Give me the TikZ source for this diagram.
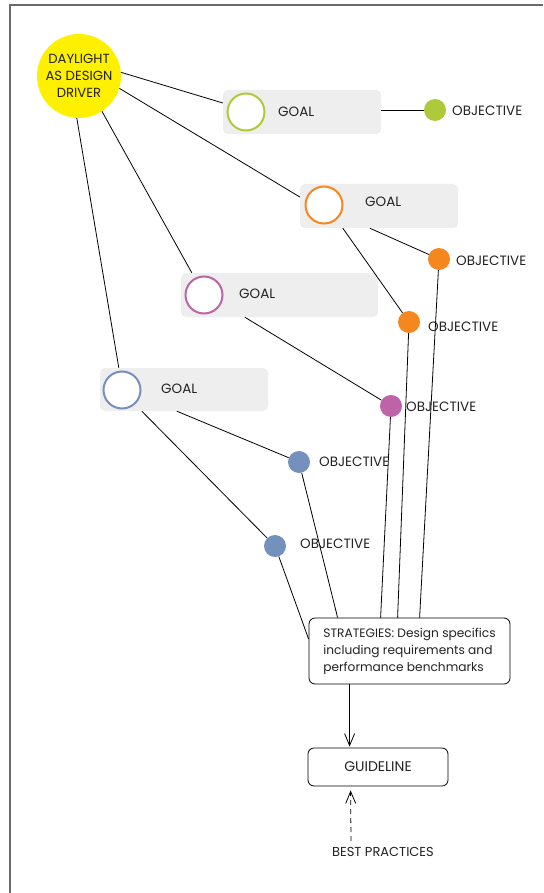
\documentclass[tikz,border=0pt]{standalone}
\usepackage{fontspec}
\setmainfont{Poppins}
\usetikzlibrary{arrows.meta,calc}
\definecolor{dyellow}{HTML}{FFF000}
\definecolor{cgreen}{HTML}{AEC93A}
\definecolor{corange}{HTML}{F5871F}
\definecolor{cpurple}{HTML}{BF63A7}
\definecolor{cblue}{HTML}{7490BD}
\definecolor{boxgray}{HTML}{EEEEEE}
\definecolor{framegray}{HTML}{6A6A6A}
\definecolor{txt}{HTML}{222222}
\begin{document}
\begin{tikzpicture}[x=1pt,y=-1pt,
  goalbox/.style={fill=boxgray, rounded corners=5pt, inner sep=0pt, minimum height=44pt},
  goalring/.style={circle, draw=#1, line width=2pt, fill=white, minimum size=37pt, inner sep=0pt},
  objdot/.style={circle, fill=#1, minimum size=22pt, inner sep=0pt},
  lbl/.style={anchor=west, inner sep=0pt, font=\fontsize{13.5}{16}\selectfont, text=txt},
  conn/.style={draw=black, line width=0.8pt},
  whitebox/.style={draw=black, line width=0.8pt, fill=white, rounded corners=6pt, inner sep=0pt, text=txt}]
\useasboundingbox (0,0) rectangle (543,893);
\fill[white] (0,0) rectangle (543,893);
\draw[framegray, line width=2pt] (10,893) -- (10,5) -- (543,5);

% driver
\node[circle, fill=dyellow, minimum size=84pt, inner sep=0pt, align=center,
      font=\fontsize{13.2}{17}\selectfont, text=txt] (driver) at (79,76) {DAYLIGHT\\AS DESIGN\\DRIVER};

% goal boxes
\node[goalbox, minimum width=158pt] (g1box) at (302,112) {};
\node[goalbox, minimum width=158pt] (g2box) at (379,206) {};
\node[goalbox, minimum width=197pt] (g3box) at (279.5,295) {};
\node[goalbox, minimum width=168pt, minimum height=43pt] (g4box) at (184,389.5) {};

% strategies and guideline
\node[whitebox, minimum width=201pt, minimum height=66pt, align=left,
      font=\fontsize{12.2}{17}\selectfont] (strat) at (409.5,651)
      {STRATEGIES: Design specifics\\including requirements and\\performance benchmarks};
\node[whitebox, minimum width=140pt, minimum height=38pt,
      font=\fontsize{14}{16}\selectfont] (guide) at (378,767) {GUIDELINE};
\node[inner sep=0pt, font=\fontsize{13}{16}\selectfont, text=txt] (best) at (383,852) {BEST PRACTICES};

% objectives
\node[objdot=cgreen] (o1) at (435,110) {};
\node[objdot=corange] (oo1) at (439,259) {};
\node[objdot=corange] (oo2) at (409,322) {};
\node[objdot=cpurple] (op) at (391,406) {};
\node[objdot=cblue] (ob1) at (299,462) {};
\node[objdot=cblue] (ob2) at (275,546) {};

% connectors
\draw[conn] (driver.5) -- ($(g1box.west)+(0,-9)$);
\draw[conn] (driver.-17) -- ($(g2box.west)+(0,-9)$);
\draw[conn] (driver.-57) -- ($(g3box.north west)+(11,0)$);
\draw[conn] (driver.-93) -- ($(g4box.north west)+(19,0)$);
\draw[conn] ($(g1box.east)+(0,-2)$) -- (o1);
\draw[conn] ($(g2box.south west)+(70,0)$) -- (oo1);
\draw[conn] ($(g2box.south west)+(43,0)$) -- (oo2);
\draw[conn] ($(g3box.south west)+(64,0)$) -- (op);
\draw[conn] ($(g4box.south west)+(77,0)$) -- (ob1);
\draw[conn] ($(g4box.south west)+(42,0)$) -- (ob2);
\draw[conn] (ob2) -- ($(strat.west)+(0,-12)$);
\draw[conn] (ob1) -- ($(strat.north west)+(29,0)$);
\draw[conn] (op) -- ($(strat.north west)+(72,0)$);
\draw[conn] (oo2) -- ($(strat.north west)+(89,0)$);
\draw[conn] (oo1) -- ($(strat.north west)+(111,0)$);
\draw[conn, -{Straight Barb[length=12pt,width=10pt]}] ($(strat.south west)+(41,0)$) -- ($(guide.north west)+(42,-1)$);
\draw[conn, dash pattern=on 5pt off 4pt, -{Straight Barb[length=12pt,width=10pt]}] ($(best.north)+(-32,-6)$) -- ($(guide.south west)+(43,4)$);

% goal rings and labels
\node[goalring=cgreen] (g1c) at (246,112) {};
\node[goalring=corange] (g2c) at (324,205) {};
\node[goalring=cpurple] (g3c) at (204,295) {};
\node[goalring=cblue] (g4c) at (122,390) {};
\node[lbl] (g1t) at (278,112) {GOAL};
\node[lbl] (g2t) at (365,202) {GOAL};
\node[lbl] (g3t) at (239,294) {GOAL};
\node[lbl] (g4t) at (161,389) {GOAL};

\node[lbl] (o1t) at (452,111) {OBJECTIVE};
\node[lbl] (oo1t) at (456,261) {OBJECTIVE};
\node[lbl] (oo2t) at (428,327) {OBJECTIVE};
\node[lbl] (opt) at (406,407) {OBJECTIVE};
\node[lbl] (ob1t) at (319,462) {OBJECTIVE};
\node[lbl] (ob2t) at (300,544) {OBJECTIVE};
\end{tikzpicture}
\end{document}
